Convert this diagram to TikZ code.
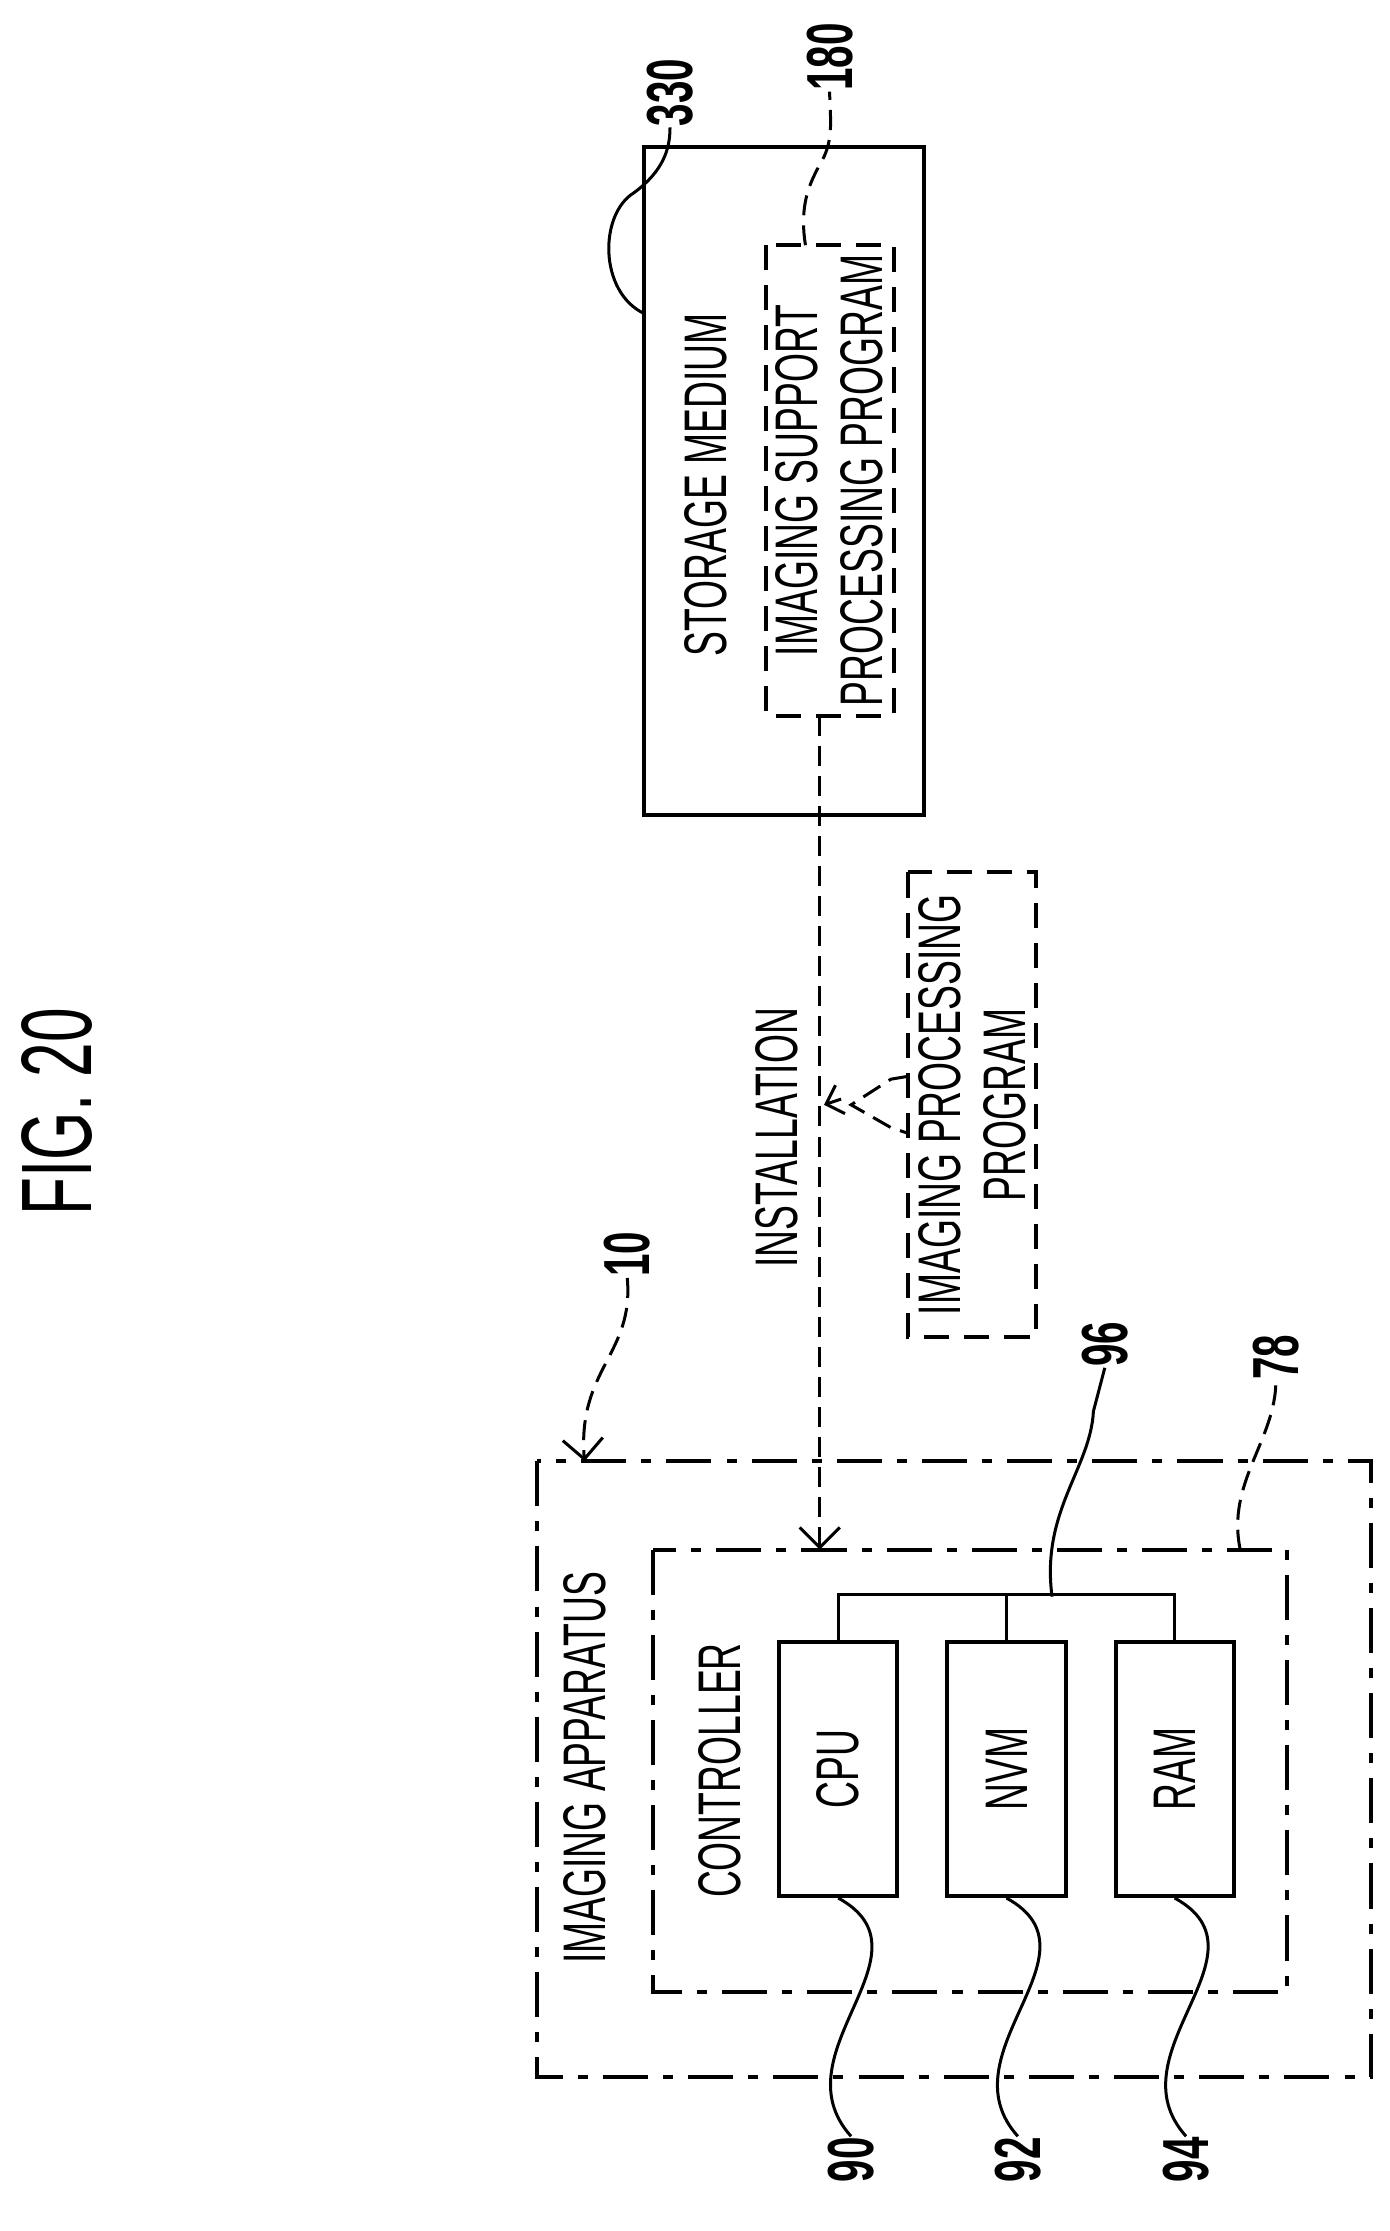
\documentclass[tikz,border=0pt]{standalone}
\usepackage{fontspec}
\setmainfont{Liberation Sans}[FakeStretch=0.62]
\usetikzlibrary{arrows.meta, positioning}

\tikzset{
  lbl/.style={rotate=90, font=\fontsize{12}{13}\selectfont, align=center, inner sep=0pt},
  num/.style={rotate=90, font=\fontsize{13}{14}\selectfont\bfseries, inner sep=0pt},
  box/.style={draw, line width=0.8pt},
  dbox/.style={draw, line width=0.8pt, dash pattern=on 5pt off 3pt},
  ddbox/.style={draw, line width=0.8pt, dash pattern=on 9pt off 3pt on 2pt off 3pt},
  lead/.style={line width=0.6pt},
  dlead/.style={line width=0.6pt, dash pattern=on 4pt off 2pt}
}

\begin{document}
\begin{tikzpicture}[x=0.1mm, y=-0.1mm]
  \useasboundingbox (0,0) rectangle (975,1565);

  % title
  \node (title) at (40,780) [rotate=90, font=\fontsize{20}{22}\selectfont] {FIG. 20};

  %%%%%%%%%%%%%%%%%%
  % storage medium
  \draw[box] (452,103) rectangle (648,572);
  \node (storage) at (495,340) [lbl] {STORAGE MEDIUM};
  \draw[dbox] (537,172) rectangle (627,502);
  \node (support) at (582,337) [lbl] {IMAGING SUPPORT\\PROCESSING PROGRAM};

  \node (n330) at (470,65) [num] {330};
  \node (n180) at (582,40) [num] {180};
  \draw[lead] (452,220) .. controls (420,205) and (420,150) .. (445,135)
    .. controls (465,120) and (470,105) .. (n330.west);
  \draw[dlead] (565,172) .. controls (560,140) and (570,125) .. (578,110)
    .. controls (585,95) and (582,80) .. (n180.west);

  %%%%%%%%%%%%%%%%%%
  % installation
  \node (install) at (545,798) [lbl] {INSTALLATION};
  \draw[dbox] (637,612) rectangle (727,938);
  \node (imgprog) at (682,775) [lbl] {IMAGING PROCESSING\\PROGRAM};
  \coordinate (tipA) at (597,775);
  \draw[dlead] (637,755) -- (625,757) -- (tipA) -- (625,791) -- (637,795);
  \draw[lead, -{Straight Barb[length=3pt]}] (590,771) -- (578,775);

  %%%%%%%%%%%%%%%%%%
  % imaging apparatus
  \draw[ddbox] (377,1025) rectangle (962,1457);
  \node (apparatus) at (410,1240) [lbl] {IMAGING APPARATUS};
  \draw[ddbox] (458,1087) rectangle (903,1397);
  \node (controller) at (505,1242) [lbl] {CONTROLLER};

  \node (cpu) at (588,1241) [box, minimum width=83*0.1mm, minimum height=178*0.1mm] {};
  \node (nvm) at (706,1241) [box, minimum width=83*0.1mm, minimum height=178*0.1mm] {};
  \node (ram) at (824,1241) [box, minimum width=83*0.1mm, minimum height=178*0.1mm] {};
  \node at (cpu) [lbl] {CPU};
  \node at (nvm) [lbl] {NVM};
  \node at (ram) [lbl] {RAM};

  \draw[lead] (cpu.north) -- ++(0,-32) -| (ram.north);
  \draw[lead] (nvm.north) -- ++(0,-32);

  \draw[dlead, -{Straight Barb[length=4pt]}] (575,502) -- (575,1087);

  %%%%%%%%%%%%%%%%%%
  % reference numbers
  \node (n10) at (440,880) [num] {10};
  \node (n96) at (775,943) [num] {96};
  \node (n78) at (895,952) [num] {78};
  \node (n90) at (597,1515) [num] {90};
  \node (n92) at (714,1515) [num] {92};
  \node (n94) at (832,1515) [num] {94};

  \draw[dlead, -{Straight Barb[length=4pt]}] (n10.west) .. controls (445,950) and (405,960) .. (410,1025);
  \draw[lead] (738,1120) .. controls (730,1060) and (765,1030) .. (767,990) -- (n96.west);
  \draw[dlead] (870,1087) .. controls (860,1040) and (895,1010) .. (n78.west);
  \foreach \b/\n in {cpu/n90, nvm/n92, ram/n94}
    \draw[lead] (\b.south) .. controls ([xshift=20]\b.south |- 0,1370) and ([xshift=-15]\n.east |- 0,1440) .. (\n.east);
\end{tikzpicture}
\end{document}
